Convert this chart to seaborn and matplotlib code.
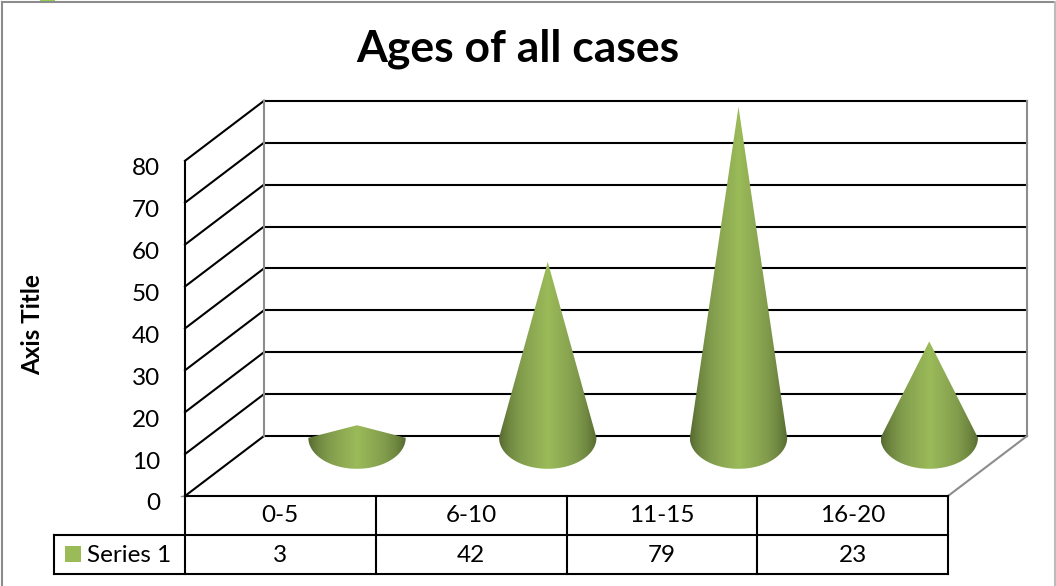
import numpy as np
import matplotlib
matplotlib.use('Agg')
import matplotlib.pyplot as plt
from matplotlib.patches import Polygon, Rectangle
import seaborn as sns

# chart values
title = 'Ages of all cases'
y_label = 'Axis Title'
series_name = 'Series 1'
age_groups = ['0-5', '6-10', '11-15', '16-20']
cases = [3, 42, 79, 23]
y_ticks = [0, 10, 20, 30, 40, 50, 60, 70, 80]

GREEN = '#9BBB59'
WALL_GREY = '#8C8C8C'
W, H = 1056, 586

# scale of the front plane, in pixels
PX_X0, PX_CAT = 185, 190.75
PX_Y0, PX_VAL = 496, 4.19

# depth of the box, in data units
DEPTH_X = 79 / PX_CAT
DEPTH_Y = 60 / PX_VAL
CONE_DEPTH = 0.97
CONE_RX = 48.7 / PX_CAT
CONE_RY = 31 / PX_VAL


def px_x(px):
    return (px - PX_X0) / PX_CAT - 0.5


def px_y(py):
    return (PX_Y0 - py) / PX_VAL


def seg(ax, xs, ys, color='black', lw=1.5, zorder=2):
    sns.lineplot(x=xs, y=ys, color=color, linewidth=lw, estimator=None, sort=False,
                 legend=False, ax=ax, zorder=zorder, solid_capstyle='projecting')


sns.set_theme(style='white')
plt.rcParams['font.family'] = ['Lato', 'DejaVu Sans']

fig = plt.figure(figsize=(W / 100, H / 100), dpi=100)
ax = fig.add_axes([0, 0, 1, 1])

left, right = -0.5, len(age_groups) - 0.5
top_val = max(y_ticks)

# back wall and side wall gridlines
for t in y_ticks:
    seg(ax, [left + DEPTH_X, right + DEPTH_X], [t + DEPTH_Y, t + DEPTH_Y])
    seg(ax, [left, left + DEPTH_X], [t, t + DEPTH_Y])

seg(ax, [left, left], [0, top_val])
seg(ax, [left + DEPTH_X, left + DEPTH_X], [DEPTH_Y, top_val + DEPTH_Y], color=WALL_GREY)
seg(ax, [right + DEPTH_X, right + DEPTH_X], [DEPTH_Y, top_val + DEPTH_Y], color=WALL_GREY)
seg(ax, [right, right + DEPTH_X], [0, DEPTH_Y], color=WALL_GREY)
seg(ax, [left, left - 4 / PX_CAT], [0, 0], color=WALL_GREY, lw=1)

# cones, shaded across their width
edge_stops = ['#566B33', '#6F8740', '#7F9A4B', '#8AA651', '#92B055']
shade = sns.blend_palette(edge_stops + [GREEN] + edge_stops[::-1], n_colors=256, as_cmap=True)
ramp = np.linspace(0, 1, 256).reshape(1, -1)
theta = np.linspace(np.pi, 2 * np.pi, 60)
for i, val in enumerate(cases):
    cx = i + CONE_DEPTH * DEPTH_X
    cy = CONE_DEPTH * DEPTH_Y
    outline = [(cx, cy + val)]
    outline += [(cx + CONE_RX * np.cos(a), cy + CONE_RY * np.sin(a)) for a in theta[::-1]]
    poly = Polygon(outline, closed=True, transform=ax.transData, facecolor='none', edgecolor='none')
    ax.add_patch(poly)
    im = ax.imshow(ramp, cmap=shade, aspect='auto', zorder=3, interpolation='bilinear',
                   extent=[cx - CONE_RX, cx + CONE_RX, cy - CONE_RY, cy + val])
    im.set_clip_path(poly)

# data table below the plot
row1 = px_y(535)
row2 = px_y(574)
legend_left = px_x(54)
seg(ax, [left, right], [0, 0])
seg(ax, [legend_left, right], [row1, row1])
seg(ax, [legend_left, right], [row2, row2])
seg(ax, [legend_left, legend_left], [row1, row2])
for k in range(len(age_groups) + 1):
    seg(ax, [left + k, left + k], [0, row2])

for i, (lab, val) in enumerate(zip(age_groups, cases)):
    ax.text(i, px_y(516), lab, ha='center', va='center', fontsize=17.5, color='black')
    ax.text(i, px_y(555), str(val), ha='center', va='center', fontsize=17.5, color='black')

ax.add_patch(Rectangle((px_x(65), px_y(562)), 16 / PX_CAT, 16 / PX_VAL, facecolor=GREEN, edgecolor='none'))
ax.text(px_x(87), px_y(555), series_name, ha='left', va='center', fontsize=17.5, color='black')

# axis text
for t in y_ticks:
    ax.text(px_x(160), t - 8 / PX_VAL, str(t), ha='right', va='center', fontsize=17.5, color='black')
ax.text(px_x(33), px_y(325), y_label, rotation=90, ha='center', va='center',
        fontsize=17.5, fontweight='bold', color='black')
ax.text(px_x(518), px_y(49), title, ha='center', va='center',
        fontsize=32, fontweight='bold', color='black')

# chart frame
seg(ax, [px_x(2), px_x(2)], [px_y(2), px_y(586)], color='#8C8C8C', lw=1.5)
seg(ax, [px_x(2), px_x(1055)], [px_y(2), px_y(2)], color='#8C8C8C', lw=1.5)
seg(ax, [px_x(1055), px_x(1055)], [px_y(2), px_y(586)], color='#BBBBBB', lw=1.5)
ax.add_patch(Rectangle((px_x(40), px_y(1.2)), 15 / PX_CAT, 1.2 / PX_VAL, facecolor='#92D050', edgecolor='none'))

ax.set_xlim(px_x(0), px_x(W))
ax.set_ylim(px_y(H), px_y(0))
ax.set_xticks([])
ax.set_yticks([])
ax.set_xlabel('')
ax.set_ylabel('')
sns.despine(ax=ax, left=True, bottom=True)

fig.savefig('out.png', dpi=100, facecolor='white')
